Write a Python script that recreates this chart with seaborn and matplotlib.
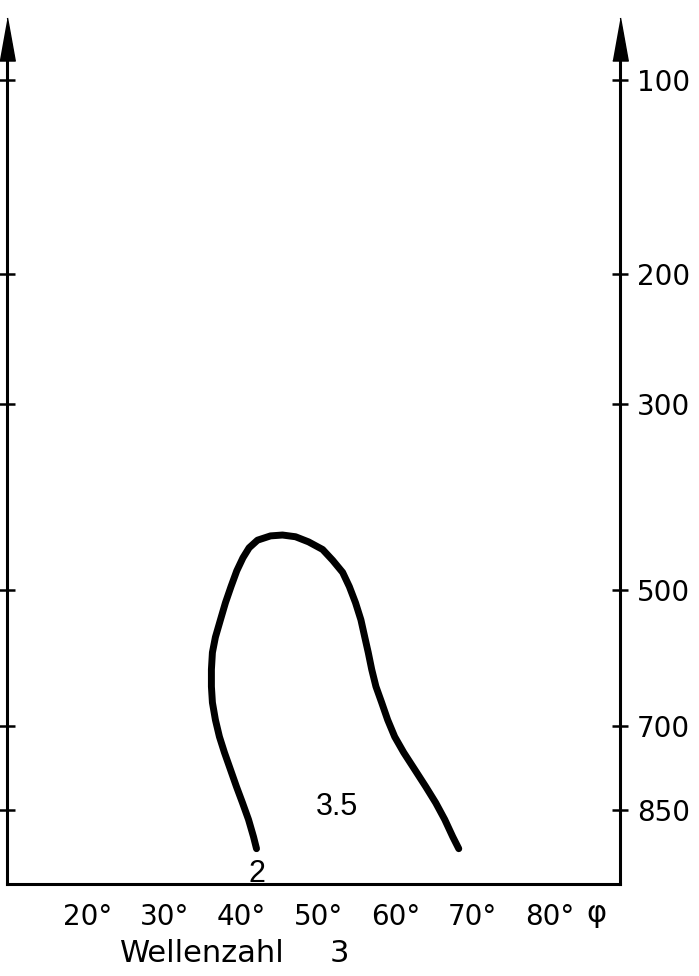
import numpy as np
import pandas as pd
import matplotlib
matplotlib.use("Agg")
import matplotlib.pyplot as plt
import matplotlib.transforms as mtransforms
import seaborn as sns

# ---- data ----
latitude = [42.86, 42.47, 41.82, 41.04, 40.26, 39.48, 38.70, 38.05, 37.53, 37.14,
            37.01, 37.01, 37.14, 37.53, 38.18, 38.83, 39.55, 40.30, 41.10, 41.90,
            42.99, 44.68, 46.23, 47.92, 49.61, 51.43, 52.73, 54.03, 54.90, 55.70,
            56.40, 56.90, 57.35, 57.80, 58.35, 59.09, 59.87, 60.78, 61.95, 63.38,
            64.81, 66.10, 67.27, 68.31, 69.09]
pressure = [926, 902, 868, 836, 806, 775, 745, 718, 690, 662,
            637, 611, 586, 564, 540, 517, 496, 476, 460, 448,
            439, 434, 433, 435, 441, 450, 463, 478, 496, 517,
            540, 564, 586, 611, 637, 662, 690, 718, 745, 775,
            806, 836, 868, 902, 926]
x_ticks = [20, 30, 40, 50, 60, 70, 80]
x_ticklabels = ["20°", "30°", "40°", "50°", "60°", "70°", "80°"]
p_ticks = [100, 200, 300, 500, 700, 850]
p_ticklabels = ["100", "200", "300", "500", "700", "850"]
curve_labels = ["2", "3.5"]

df = pd.DataFrame({"lat": latitude, "p": pressure})

sns.set_theme(style="white")
plt.rcParams["font.family"] = ["DejaVu Sans"]

W, H = 699, 976
fig = plt.figure(figsize=(W / 100, H / 100), dpi=100)
left_px, right_px, top_px, bottom_px = 7, 620, 60, 884
ax = fig.add_axes([left_px / W, 1 - bottom_px / H,
                   (right_px - left_px) / W, (bottom_px - top_px) / H])

kappa = 0.26
ax.set_yscale("function", functions=(lambda p: np.power(np.clip(p, 1e-9, None), kappa),
                                     lambda s: np.power(np.clip(s, 0, None), 1 / kappa)))

sns.lineplot(data=df, x="lat", y="p", sort=False, estimator=None, ax=ax,
             color="black", linewidth=5.0, solid_capstyle="round",
             solid_joinstyle="round")

ax.set_xlim(10.5, 90.0)
ax.set_ylim(1000, 92.3)

ax.set_xticks(x_ticks)
ax.set_xticklabels(x_ticklabels, fontsize=20)
ax.set_yticks(p_ticks)
ax.set_yticklabels(p_ticklabels, fontsize=20)
ax.yaxis.set_minor_locator(matplotlib.ticker.NullLocator())

ax.tick_params(axis="x", direction="inout", length=11, width=1.8, pad=8, colors="black")
ax.tick_params(axis="y", direction="inout", length=12, width=1.8, pad=6, colors="black",
               left=True, right=True, labelleft=False, labelright=True)

# shift x tick labels so the digits are centred on the ticks
offset = mtransforms.ScaledTranslation(7 / 100, 0, fig.dpi_scale_trans)
for lab in ax.get_xticklabels():
    lab.set_transform(lab.get_transform() + offset)

for side in ["left", "right", "bottom"]:
    ax.spines[side].set_color("black")
    ax.spines[side].set_linewidth(2.2)
ax.spines["top"].set_visible(False)

ax.set_xlabel("")
ax.set_ylabel("")

# arrowheads at the top of both vertical axes
arrow = [(-0.18, -0.5), (0.18, -0.5), (0.0, 0.5)]
for xa in (0.0, 1.0):
    ax.plot([xa], [1.0255], transform=ax.transAxes, marker=arrow, markersize=31,
            color="black", clip_on=False)

# curve labels
ax.text(42.86, 996, curve_labels[0], fontsize=22, ha="center", va="baseline",
        color="black", family=["Liberation Sans", "DejaVu Sans"])
ax.text(53.25, 859, curve_labels[1], fontsize=22, ha="center", va="baseline",
        color="black", family=["Liberation Sans", "DejaVu Sans"])

# phi symbol after 80°
fig.text(596 / W, 1 - 914 / H, "φ", fontsize=22, ha="center", va="center", color="black")
# bottom caption
fig.text(120 / W, 1 - 962 / H, "Wellenzahl", fontsize=22, ha="left", va="baseline",
         color="black")
fig.text(330 / W, 1 - 962 / H, "3", fontsize=22, ha="left", va="baseline",
         color="black")

fig.savefig("out.png", dpi=100)
